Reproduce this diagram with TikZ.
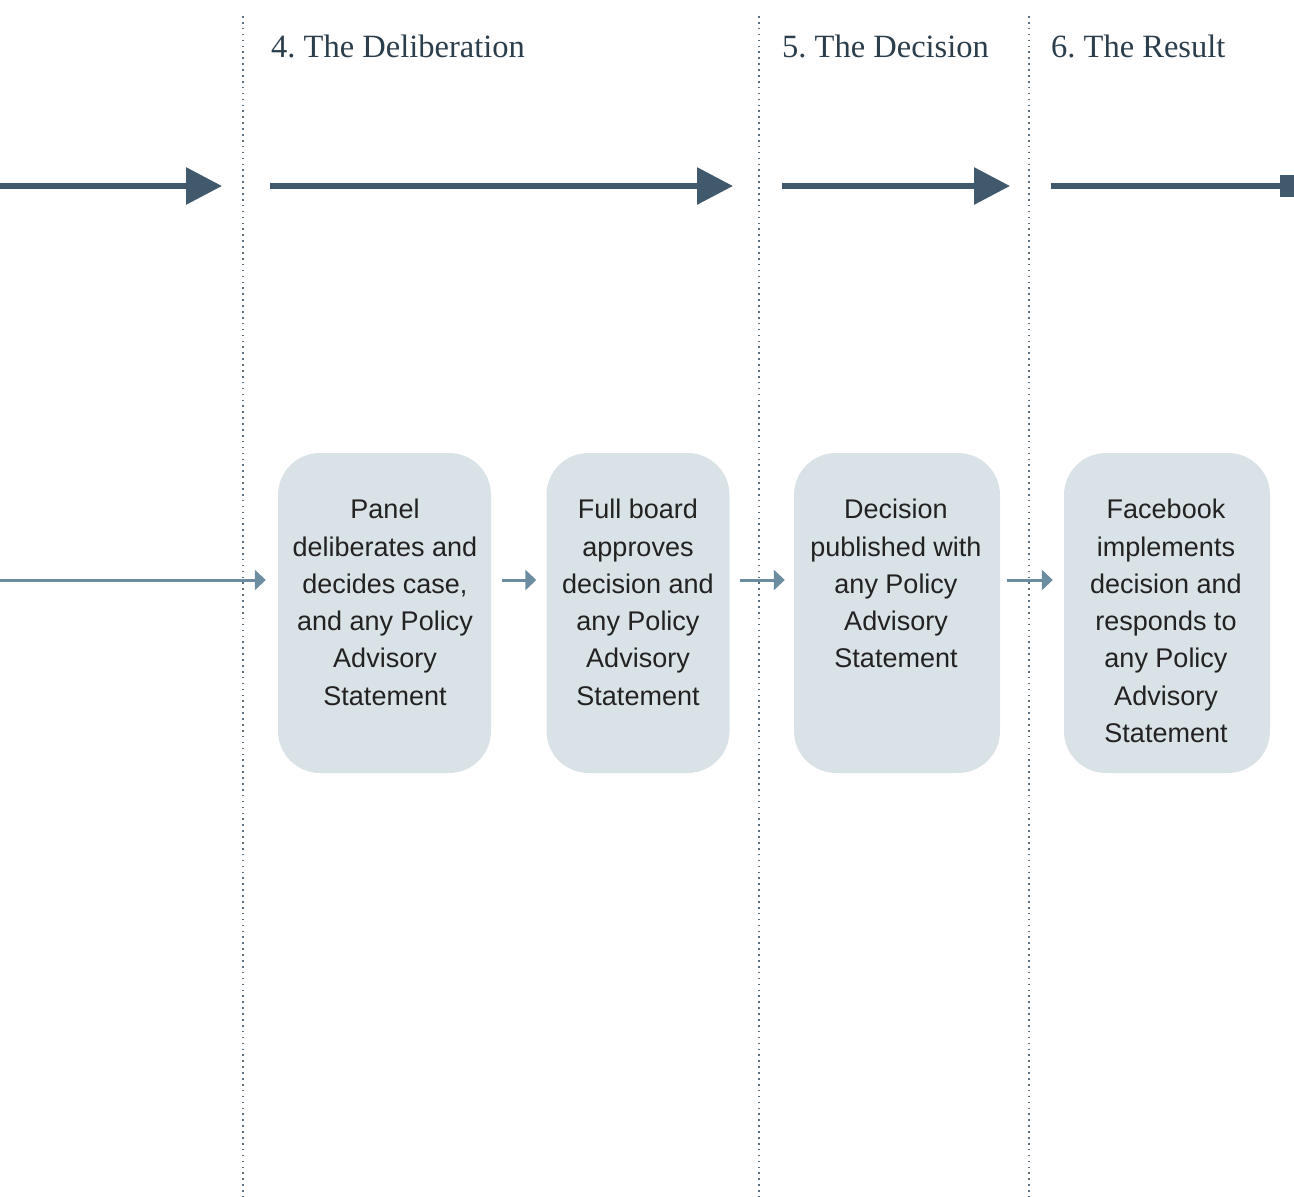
\documentclass[tikz,border=0pt]{standalone}
\usepackage{fontspec}
\setmainfont{Liberation Serif}
\setsansfont{Liberation Sans}
\usetikzlibrary{arrows.meta}
\frenchspacing
\definecolor{darkarrow}{HTML}{40596C}
\definecolor{headtext}{HTML}{2C3E4C}
\definecolor{lightarrow}{HTML}{6C8CA2}
\definecolor{boxfill}{HTML}{D9E2E7}
\definecolor{bodytext}{HTML}{222222}
\definecolor{divcolor}{HTML}{5A6F80}
\tikzset{
  divider/.style={draw=divcolor, line width=1.6pt, dash pattern=on 1.6pt off 4.3pt},
  header/.style={anchor=base west, inner sep=0pt, text=headtext, font=\fontsize{32.5}{38}\selectfont},
  bigarrow/.style={draw=darkarrow, line width=6pt, -{Triangle[length=36pt,width=36pt]}},
  bigend/.style={draw=darkarrow, line width=6pt, -{Rectangle[length=14pt,width=22pt]}},
  smallarrow/.style={draw=lightarrow, line width=3pt, -{Triangle[length=11pt,width=20pt]}},
  stepbox/.style={fill=boxfill, rounded corners=42pt, minimum height=320pt, inner sep=0pt},
  boxtext/.style={anchor=north, inner sep=0pt, align=center, text=bodytext, font=\sffamily\fontsize{27}{37.3}\selectfont}
}
\begin{document}
\begin{tikzpicture}[x=1pt,y=-1pt]
\useasboundingbox (0,0) rectangle (1294,1197);
% dividers
\draw[divider] (243,16) -- (243,1197);
\draw[divider] (759,16) -- (759,1197);
\draw[divider] (1029,16) -- (1029,1197);
% headers
\node[header] (h4) at (271,57) {4. The Deliberation};
\node[header] (h5) at (782,57) {5. The Decision};
\node[header] (h6) at (1051,57) {6. The Result};
% big arrows
\coordinate (a1s) at (0,186); \coordinate (a1e) at (222,186);
\coordinate (a2s) at (270,186); \coordinate (a2e) at (733,186);
\coordinate (a3s) at (782,186); \coordinate (a3e) at (1010,186);
\coordinate (a4s) at (1051,186); \coordinate (a4e) at (1294,186);
\draw[bigarrow] (a1s) -- (a1e);
\draw[bigarrow] (a2s) -- (a2e);
\draw[bigarrow] (a3s) -- (a3e);
\draw[bigend] (a4s) -- (a4e);
% boxes
\node[stepbox, minimum width=213pt] (b1) at (384.5,613) {};
\node[stepbox, minimum width=183pt] (b2) at (638,613) {};
\node[stepbox, minimum width=206pt] (b3) at (897,613) {};
\node[stepbox, minimum width=206pt] (b4) at (1167,613) {};
\node[boxtext] (t1) at (385,499) {Panel\\deliberates and\\decides case,\\and any Policy\\Advisory\\Statement};
\node[boxtext] (t2) at (638,499) {Full board\\approves\\decision and\\any Policy\\Advisory\\Statement};
\node[boxtext] (t3) at (896,499) {Decision\\published with\\any Policy\\Advisory\\Statement};
\node[boxtext] (t4) at (1166,499) {Facebook\\implements\\decision and\\responds to\\any Policy\\Advisory\\Statement};
% small arrows
\coordinate (s0) at (0,580);
\draw[smallarrow, shorten >=12pt] (s0) -- (b1.west |- s0);
\draw[smallarrow, shorten <=11pt, shorten >=10pt] (b1.east |- s0) -- (b2.west |- s0);
\draw[smallarrow, shorten <=10pt, shorten >=9pt] (b2.east |- s0) -- (b3.west |- s0);
\draw[smallarrow, shorten <=7pt, shorten >=11pt] (b3.east |- s0) -- (b4.west |- s0);
\end{tikzpicture}
\end{document}
